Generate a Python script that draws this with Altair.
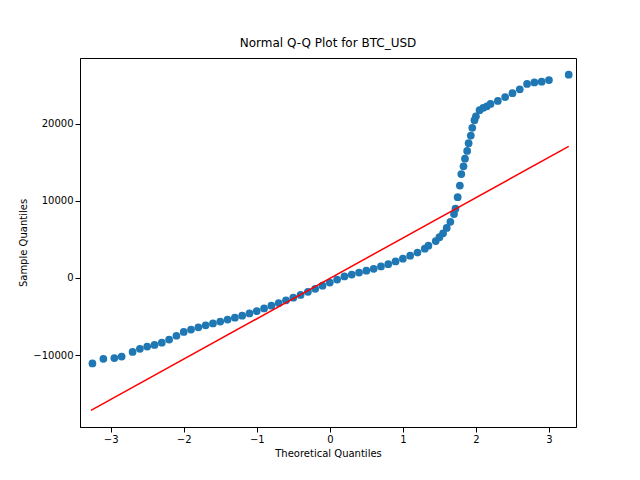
import altair as alt
import pandas as pd

# quantiles
theo = [-3.25, -3.1, -2.95, -2.85, -2.7, -2.6, -2.5, -2.4, -2.3, -2.2, -2.1, -2.0,
        -1.9, -1.8, -1.7, -1.6, -1.5, -1.4, -1.3, -1.2, -1.1, -1.0, -0.9, -0.8, -0.7,
        -0.6, -0.5, -0.4, -0.3, -0.2, -0.1, 0.0, 0.1, 0.2, 0.3, 0.4, 0.5, 0.6, 0.7,
        0.8, 0.9, 1.0, 1.1, 1.2, 1.3, 1.35, 1.45, 1.5, 1.55, 1.6, 1.65, 1.7, 1.72,
        1.75, 1.78, 1.8, 1.83, 1.85, 1.88, 1.9, 1.93, 1.95, 1.98, 2.0, 2.05, 2.1,
        2.15, 2.2, 2.3, 2.4, 2.5, 2.6, 2.7, 2.8, 2.9, 3.0, 3.27]
sample = [-11100, -10500, -10400, -10200, -9600, -9200, -8900, -8700, -8400, -8000,
          -7500, -7000, -6700, -6400, -6150, -5900, -5650, -5400, -5150, -4900,
          -4600, -4300, -3950, -3600, -3250, -2900, -2550, -2200, -1800, -1400,
          -1000, -600, -200, 200, 450, 700, 950, 1200, 1500, 1800, 2150, 2500,
          2900, 3300, 3800, 4200, 4800, 5300, 5800, 6500, 7300, 8300, 9000,
          10500, 12000, 13500, 14500, 15500, 16500, 17500, 18500, 19500, 20500,
          21000, 21800, 22100, 22300, 22600, 23000, 23500, 24000, 24500, 25200,
          25400, 25500, 25700, 26400]
line_x = [-3.27, 3.27]
line_y = [-17200, 17100]

pts = pd.DataFrame({"x": theo, "y": sample})
ref = pd.DataFrame({"x": line_x, "y": line_y})

xs = alt.Scale(domain=[-3.42, 3.37], nice=False, zero=False)
ys = alt.Scale(domain=[-19350, 28570], nice=False, zero=False)
xax = alt.Axis(values=[-3, -2, -1, 0, 1, 2, 3], grid=False, title="Theoretical Quantiles",
               format="d", labelFontSize=10, titleFontSize=10, titleFontWeight="normal",
               tickColor="black", domainColor="black", labelColor="black")
yax = alt.Axis(values=[-10000, 0, 10000, 20000], grid=False, title="Sample Quantiles",
               format="d", labelFontSize=10, titleFontSize=10, titleFontWeight="normal",
               tickColor="black", domainColor="black", labelColor="black")

points = alt.Chart(pts).mark_circle(size=60, color="#1f77b4", opacity=1).encode(
    x=alt.X("x:Q", scale=xs, axis=xax),
    y=alt.Y("y:Q", scale=ys, axis=yax),
)
line = alt.Chart(ref).mark_line(color="red", strokeWidth=1.5).encode(
    x=alt.X("x:Q", scale=xs), y=alt.Y("y:Q", scale=ys)
)

chart = (points + line).properties(
    width=496, height=369,
    title=alt.TitleParams("Normal Q-Q Plot for BTC_USD", fontSize=12, fontWeight="normal", offset=8),
    autosize=alt.AutoSizeParams(type="none"),
    padding={"left": 72, "top": 50, "right": 56, "bottom": 45},
).configure(font="DejaVu Sans").configure_view(stroke="black", strokeWidth=1)

chart.save("out.html", embed_options={"renderer": "svg", "actions": False})
